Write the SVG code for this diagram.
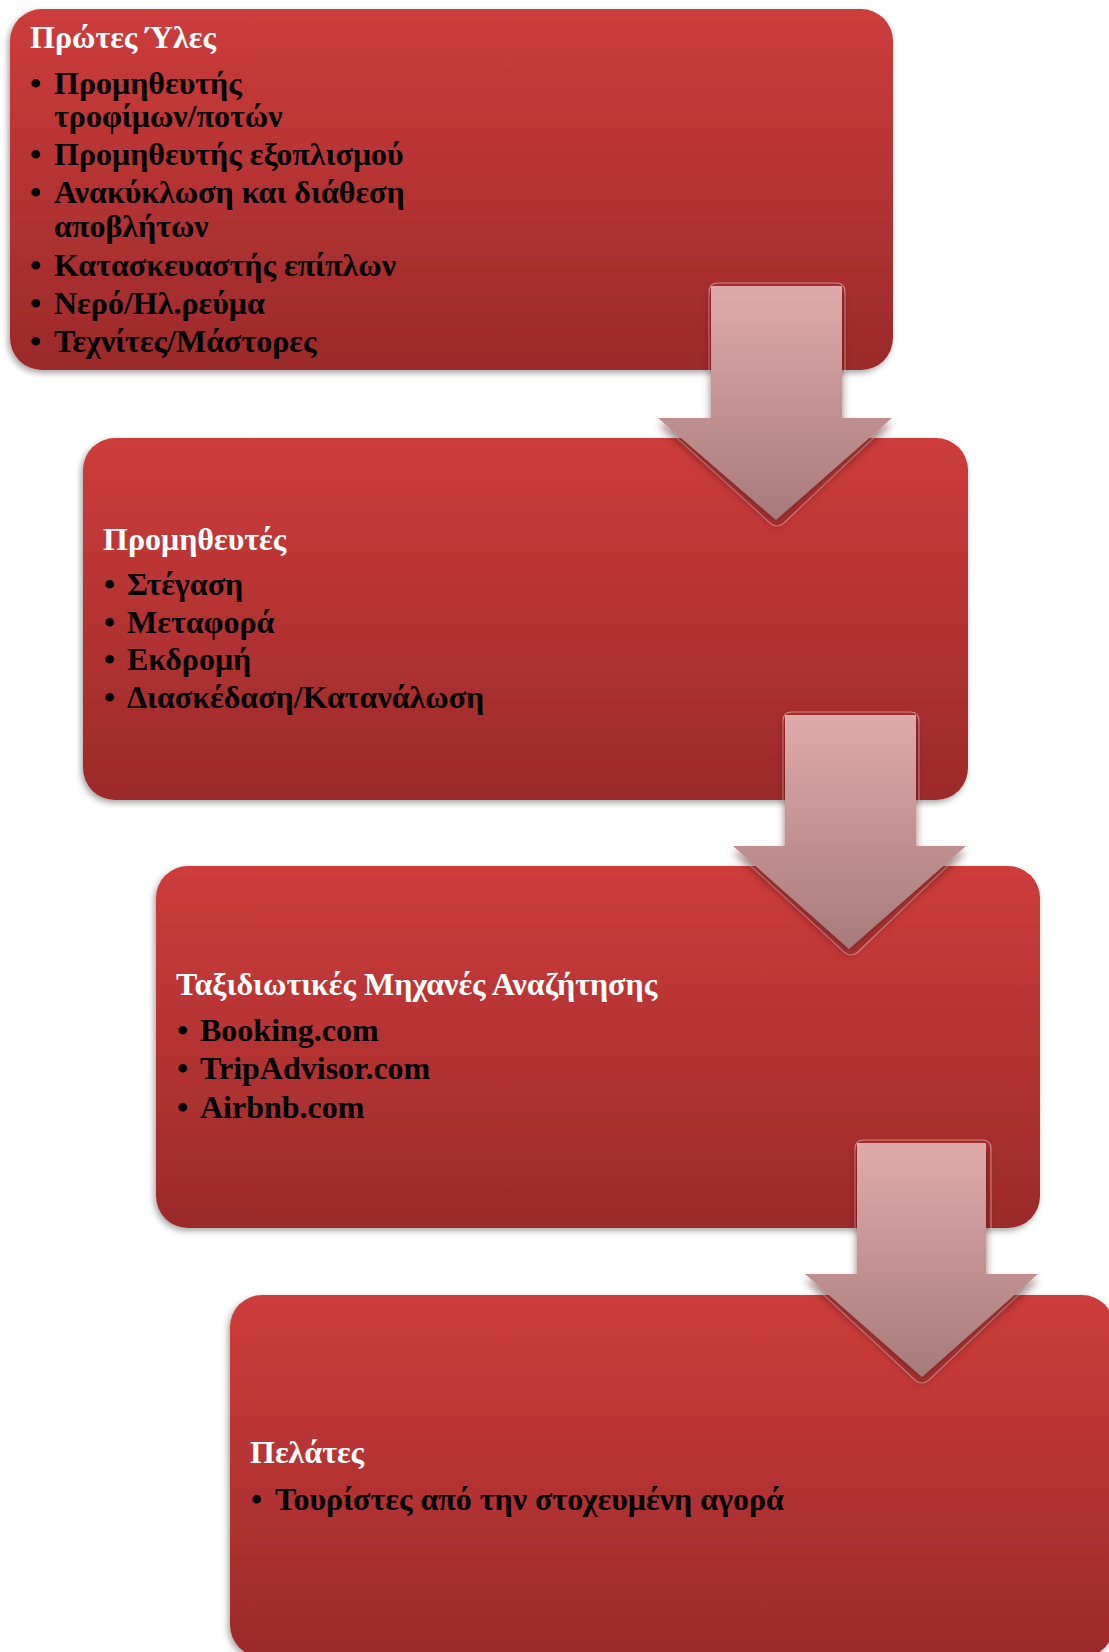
<svg xmlns="http://www.w3.org/2000/svg" width="1109" height="1652" viewBox="0 0 1109 1652">
<defs>
<linearGradient id="boxg" x1="0" y1="0" x2="0" y2="1">
<stop offset="0" stop-color="#cd3c3b"/>
<stop offset="1" stop-color="#9b2a2a"/>
</linearGradient>
<linearGradient id="arrg" x1="0" y1="0" x2="0" y2="1">
<stop offset="0" stop-color="#dfaaaa"/>
<stop offset="1" stop-color="#a77b7b"/>
</linearGradient>
<filter id="bsh" x="-5%" y="-5%" width="110%" height="115%">
<feDropShadow dx="-2" dy="3" stdDeviation="3" flood-color="#000" flood-opacity="0.35"/>
</filter>
<filter id="ash" x="-20%" y="-10%" width="140%" height="130%">
<feDropShadow dx="0" dy="6" stdDeviation="4" flood-color="#4a0c0c" flood-opacity="0.55"/>
</filter>
</defs>
<style>
.box{fill:url(#boxg);filter:url(#bsh)}
.arr{fill:url(#arrg);filter:url(#ash)}
.glint{fill:none;stroke:#ffffff;stroke-opacity:0.45;stroke-width:1.2}
.title{font-family:"Liberation Serif","Times New Roman",serif;font-weight:bold;font-size:32px;fill:#ffffff}
.item{font-family:"Liberation Serif","Times New Roman",serif;font-weight:bold;font-size:32px;fill:#000000}
</style>

<g id="node-raw-materials">
<rect class="box" x="10" y="9" width="883" height="361" rx="32" ry="32"/>
<text class="title" x="30" y="48">Πρώτες Ύλες</text>
<text class="item" x="30" y="94">•</text><text class="item" x="54" y="94">Προμηθευτής</text>
<text class="item" x="54" y="127">τροφίμων/ποτών</text>
<text class="item" x="30" y="165">•</text><text class="item" x="54" y="165">Προμηθευτής εξοπλισμού</text>
<text class="item" x="30" y="203">•</text><text class="item" x="54" y="203">Ανακύκλωση και διάθεση</text>
<text class="item" x="54" y="237">αποβλήτων</text>
<text class="item" x="30" y="276">•</text><text class="item" x="54" y="276">Κατασκευαστής επίπλων</text>
<text class="item" x="30" y="314">•</text><text class="item" x="54" y="314">Νερό/Ηλ.ρεύμα</text>
<text class="item" x="30" y="352">•</text><text class="item" x="54" y="352">Τεχνίτες/Μάστορες</text>
</g>

<g id="node-suppliers">
<rect class="box" x="83" y="438" width="885" height="362" rx="32" ry="32"/>
<text class="title" x="103" y="550">Προμηθευτές</text>
<text class="item" x="104" y="595">•</text><text class="item" x="127" y="595">Στέγαση</text>
<text class="item" x="104" y="633">•</text><text class="item" x="127" y="633">Μεταφορά</text>
<text class="item" x="104" y="670">•</text><text class="item" x="127" y="670">Εκδρομή</text>
<text class="item" x="104" y="708">•</text><text class="item" x="127" y="708">Διασκέδαση/Κατανάλωση</text>
</g>

<g id="node-search-engines">
<rect class="box" x="156" y="866" width="884" height="362" rx="32" ry="32"/>
<text class="title" x="176" y="995">Ταξιδιωτικές Μηχανές Αναζήτησης</text>
<text class="item" x="177" y="1041">•</text><text class="item" x="200" y="1041">Booking.com</text>
<text class="item" x="177" y="1079">•</text><text class="item" x="200" y="1079">TripAdvisor.com</text>
<text class="item" x="177" y="1118">•</text><text class="item" x="200" y="1118">Airbnb.com</text>
</g>

<g id="node-customers">
<rect class="box" x="230" y="1295" width="884" height="362" rx="32" ry="32"/>
<text class="title" x="250" y="1463">Πελάτες</text>
<text class="item" x="251" y="1510">•</text><text class="item" x="275" y="1510">Τουρίστες από την στοχευμένη αγορά</text>
</g>

<g id="connectors">
<g id="arrow-1">
<path class="glint" d="M709 372 L709 292 Q709 283 718 283 L836 283 Q845 283 845 292 L845 372 M666 428 L770 523 Q777 529 784 523 L884 428"/>
<polygon class="arr" points="711,286 842,286 842,418 892,418 776,520 658,418 711,418"/>
</g>
<g id="arrow-2">
<path class="glint" d="M783 801 L783 721 Q783 712 792 712 L910 712 Q919 712 919 721 L919 801 M740 856 L844 952 Q851 958 858 952 L958 856"/>
<polygon class="arr" points="785,715 916,715 916,846 966,846 849,949 733,846 785,846"/>
</g>
<g id="arrow-3">
<path class="glint" d="M855 1229 L855 1149 Q855 1140 864 1140 L982 1140 Q991 1140 991 1149 L991 1229 M812 1284 L915 1380 Q922 1386 929 1380 L1030 1284"/>
<polygon class="arr" points="857,1143 986,1143 986,1274 1038,1274 922,1377 805,1274 857,1274"/>
</g>
</g>
</svg>
